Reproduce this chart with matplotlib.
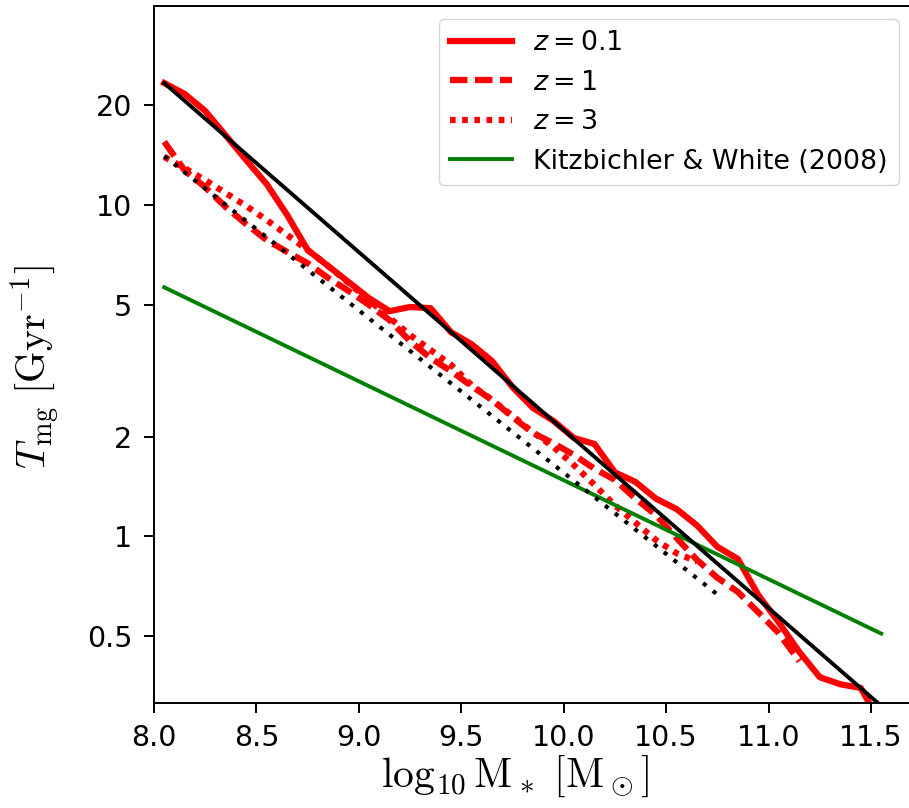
import matplotlib
matplotlib.use("Agg")
import matplotlib.pyplot as plt
from matplotlib.ticker import FixedLocator, FixedFormatter, NullLocator

# binned merger timescales (log10 M*, T_mg in Gyr^-1)
mass_z01 = [8.05, 8.15, 8.25, 8.35, 8.45, 8.55, 8.65, 8.75, 8.85, 8.95,
            9.05, 9.15, 9.25, 9.35, 9.45, 9.55, 9.65, 9.75, 9.85, 9.95,
            10.05, 10.15, 10.25, 10.35, 10.45, 10.55, 10.65, 10.75, 10.85, 10.95,
            11.05, 11.15, 11.25, 11.35, 11.45, 11.55]
tmg_z01 = [23.3, 21.6, 19.2, 16.2, 13.65, 11.55, 9.32, 7.31, 6.54, 5.85,
           5.23, 4.78, 4.92, 4.88, 4.13, 3.80, 3.38, 2.82, 2.44, 2.23,
           1.98, 1.90, 1.56, 1.46, 1.30, 1.21, 1.08, 0.93, 0.855, 0.665,
           0.55, 0.448, 0.376, 0.358, 0.349, 0.27]

mass_z1 = [8.05, 8.15, 8.25, 8.35, 8.45, 8.55, 8.65, 8.75, 8.85, 8.95,
           9.05, 9.15, 9.25, 9.35, 9.45, 9.55, 9.65, 9.75, 9.85, 9.95,
           10.05, 10.15, 10.25, 10.35, 10.45, 10.55, 10.65, 10.75, 10.85, 10.95,
           11.05, 11.15]
tmg_z1 = [15.5, 12.7, 11.3, 9.85, 8.75, 7.83, 7.21, 6.67, 6.02, 5.50,
          4.99, 4.49, 3.88, 3.45, 3.15, 2.84, 2.58, 2.29, 2.05, 1.91,
          1.76, 1.60, 1.48, 1.30, 1.16, 0.99, 0.85, 0.75, 0.68, 0.59,
          0.51, 0.42]

mass_z3 = [8.05, 8.15, 8.25, 8.35, 8.45, 8.55, 8.65, 8.75, 8.85, 8.95,
           9.05, 9.15, 9.25, 9.35, 9.45, 9.55, 9.65, 9.75, 9.85, 9.95,
           10.05, 10.15, 10.25, 10.35, 10.45, 10.55, 10.65]
tmg_z3 = [13.96, 12.9, 11.88, 10.85, 9.92, 9.0, 8.11, 7.31, 6.54, 5.81,
          5.16, 4.56, 4.05, 3.65, 3.29, 2.86, 2.58, 2.31, 2.06, 1.86,
          1.64, 1.43, 1.24, 1.10, 0.975, 0.89, 0.84]

# power-law fits (end points) and Kitzbichler & White (2008)
fit_z01_mass = [8.05, 11.55]
fit_z01_tmg = [23.3, 0.308]
fit_z3_mass = [8.05, 10.75]
fit_z3_tmg = [14.03, 0.668]
kw08_mass = [8.05, 11.55]
kw08_tmg = [5.64, 0.509]

xticks = [8.0, 8.5, 9.0, 9.5, 10.0, 10.5, 11.0, 11.5]
yticks = [0.5, 1, 2, 5, 10, 20]
ytick_labels = ["0.5", "1", "2", "5", "10", "20"]

fig = plt.figure(figsize=(9.09, 8.08), dpi=100)
ax = fig.add_axes([154 / 909, (808 - 702.7) / 808, (912 - 154) / 909, (702.7 - 6) / 808])

red_lw = 4.5
ax.plot(mass_z01, tmg_z01, color="red", lw=red_lw, label=r"$z = 0.1$")
ax.plot(mass_z1, tmg_z1, color="red", lw=red_lw, linestyle=(0, (2.8, 1.2)), label=r"$z = 1$")
ax.plot(mass_z3, tmg_z3, color="red", lw=red_lw, linestyle=(0, (0.9, 1.05)), label=r"$z = 3$")
ax.plot(kw08_mass, kw08_tmg, color="green", lw=2.8, label="Kitzbichler & White (2008)")
ax.plot(fit_z01_mass, fit_z01_tmg, color="black", lw=2.8)
ax.plot(fit_z3_mass, fit_z3_tmg, color="black", lw=3.0, linestyle=(0, (1, 2.0)))

ax.set_yscale("log")
ax.set_xlim(8.0, 11.7)
ax.set_ylim(0.315, 39.8)
ax.set_xticks(xticks)
ax.set_xticklabels([f"{t:.1f}" for t in xticks])
ax.yaxis.set_major_locator(FixedLocator(yticks))
ax.yaxis.set_major_formatter(FixedFormatter(ytick_labels))
ax.yaxis.set_minor_locator(NullLocator())

ax.tick_params(labelsize=20.5, length=7, width=1.4, pad=8.5)
for sp in ax.spines.values():
    sp.set_linewidth(1.4)

ax.set_xlabel(r"$\log_{10}{\rm M}_*\ [{\rm M}_\odot]$", fontsize=30, math_fontfamily="cm")
ax.set_ylabel(r"$T_{\rm mg}\ [{\rm Gyr}^{-1}]$", fontsize=29, math_fontfamily="cm")
ax.xaxis.set_label_coords((515 - 154) / 758, -(754 - 702.7) / 696.7)
ax.yaxis.set_label_coords(-(154 - 62) / 758, (702.7 - 367) / 696.7)

ax.legend(loc="upper right", fontsize=19.4, handlelength=2.3)

fig.savefig("out.png", dpi=100)
